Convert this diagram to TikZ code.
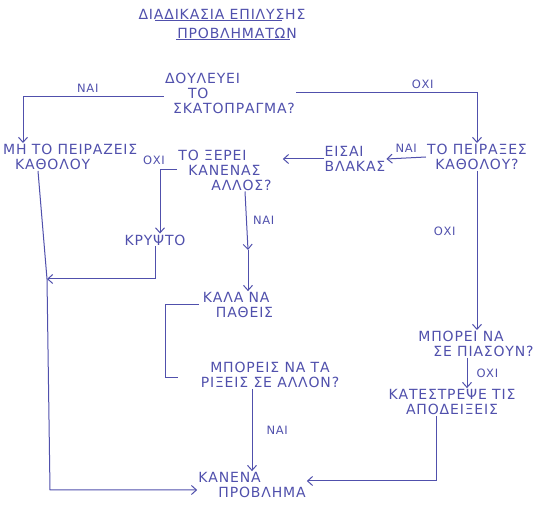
\documentclass[tikz,border=0pt]{standalone}
\usepackage{fontspec}
\setmainfont{DejaVu Sans}[LetterSpace=6]
\usetikzlibrary{arrows.meta}
\definecolor{ink}{RGB}{80,80,172}
\begin{document}
\begin{tikzpicture}[x=1pt,y=-1pt,
  txt/.style={text=ink,inner sep=1pt,font=\fontsize{14}{15}\selectfont},
  lbl/.style={text=ink,inner sep=1pt,font=\fontsize{11.5}{12}\selectfont},
  ln/.style={draw=ink,line width=1pt},
  arr/.style={ln,-{Straight Barb[length=5pt,width=9pt]}}]
\useasboundingbox (0,0) rectangle (550,513);
\node[txt] (t1) at (222,14) {ΔΙΑΔΙΚΑΣΙΑ ΕΠΙΛΥΣΗΣ};
\node[txt] (t2) at (237,33) {ΠΡΟΒΛΗΜΑΤΩΝ};
\draw[ln] ([xshift=18pt]t1.south west) -- ([xshift=-25pt]t1.south east);
\draw[ln] (t2.south west) -- ([xshift=-8pt]t2.south east);
\node[txt,align=left] (q1) at (230,93) {ΔΟΥΛΕΥΕΙ\\\hspace*{23pt}ΤΟ\\\hspace*{8pt}ΣΚΑΤΟΠΡΑΓΜΑ?};
\node[txt,align=left,anchor=west] (n1) at (2,157) {ΜΗ ΤΟ ΠΕΙΡΑΖΕΙΣ\\\hspace*{12pt}ΚΑΘΟΛΟΥ};
\node[txt,align=center] (q2) at (477,157) {ΤΟ ΠΕΙΡΑΞΕΣ\\ΚΑΘΟΛΟΥ?};
\node[txt,align=left] (b) at (355,159) {ΕΙΣΑΙ\\ΒΛΑΚΑΣ};
\node[txt,align=left] (q3) at (225,170) {ΤΟ ΞΕΡΕΙ\\\hspace*{10pt}ΚΑΝΕΝΑΣ\\\hspace*{33pt}ΑΛΛΟΣ?};
\node[txt] (k) at (155,240) {ΚΡΥΨΤΟ};
\node[txt,align=left] (kn) at (238,305) {ΚΑΛΑ ΝΑ\\\hspace*{13pt}ΠΑΘΕΙΣ};
\node[txt,align=center] (q4) at (270,375) {ΜΠΟΡΕΙΣ ΝΑ ΤΑ\\ΡΙΞΕΙΣ ΣΕ ΑΛΛΟΝ?};
\node[txt,align=left] (mp) at (476,344) {ΜΠΟΡΕΙ ΝΑ\\\hspace*{15pt}ΣΕ ΠΙΑΣΟΥΝ?};
\node[txt,align=center] (ks) at (452,402) {ΚΑΤΕΣΤΡΕΨΕ ΤΙΣ\\ΑΠΟΔΕΙΞΕΙΣ};
\node[txt,align=left] (kp) at (252,485) {ΚΑΝΕΝΑ\\\hspace*{20pt}ΠΡΟΒΛΗΜΑ};
\coordinate (join) at (47,279);
\coordinate (mid) at (248,250);
\coordinate (brk) at (165,378);
\draw[arr] ([yshift=-4pt]q1.west) -| node[lbl,pos=0.27,above=3pt] {ΝΑΙ} ([xshift=21pt]n1.north west);
\draw[arr] (q1.east) -| node[lbl,pos=0.35,above=3pt] {ΟΧΙ} (q2.north);
\draw[arr] (q2.west) -- node[lbl,above=4pt] {ΝΑΙ} (b.east);
\draw[arr] (b.west) -- ([xshift=10pt]q3.east |- b.west);
\draw[arr] (q3.west) -| node[lbl,pos=0.5,above=4pt,xshift=-6pt] {ΟΧΙ} ([xshift=5pt]k.north);
\draw[arr] (k.south) |- (join);
\draw[arr] ([xshift=36pt]n1.south west) -- (join) -- (50,490) -- ([yshift=-5pt]kp.west);
\draw[arr] ([xshift=20pt]q3.south) -- node[lbl,right=5pt] {ΝΑΙ} (mid);
\draw[arr] (mid) -- (kn.north -| mid);
\draw[ln] ([xshift=-3pt]kn.west) -| (brk) -- ([xshift=-22pt]q4.west |- brk);
\draw[arr] (q4.south -| kp.north) -- node[lbl,right=13pt] {ΝΑΙ} (kp.north);
\draw[arr] (q2.south) -- node[lbl,pos=0.38,left=20pt] {ΟΧΙ} (q2.south |- mp.north);
\draw[arr] ([xshift=-9pt]mp.south) -- node[lbl,right=8pt] {ΟΧΙ} ([xshift=-9pt]mp.south |- ks.north);
\draw[arr] ([xshift=-16pt]ks.south) |- ([yshift=4pt]kp.east);
\end{tikzpicture}
\end{document}
